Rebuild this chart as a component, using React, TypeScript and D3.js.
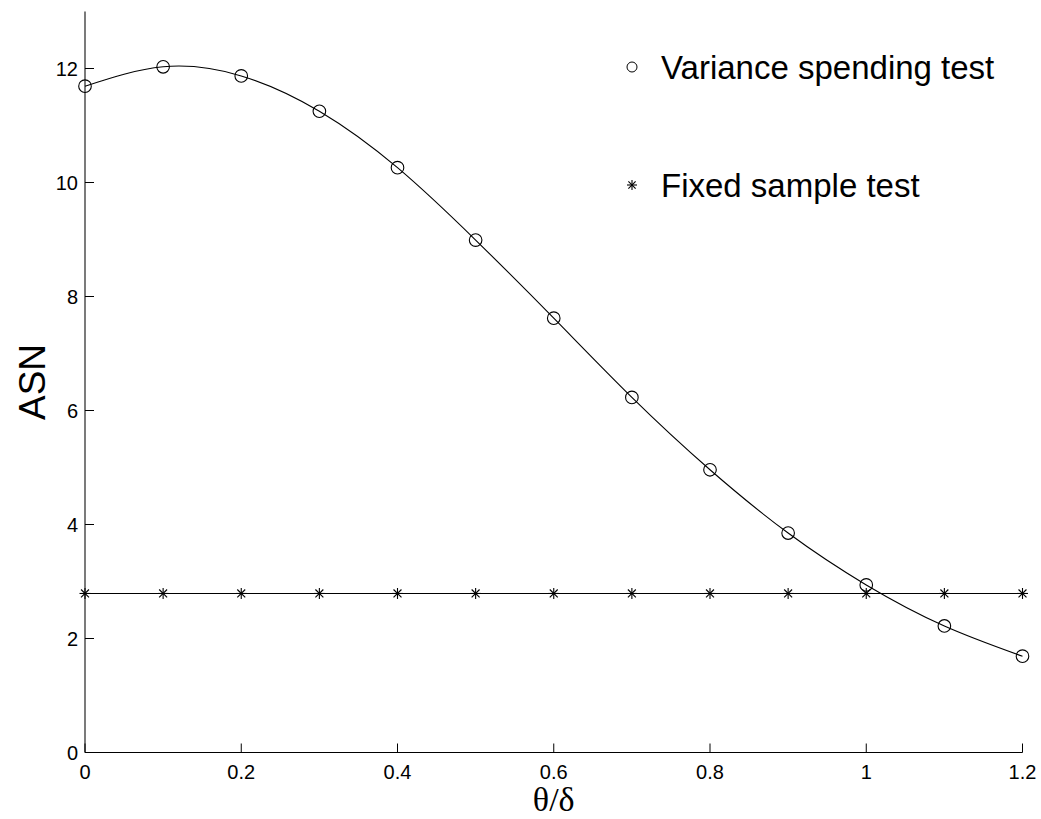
import React from "react";
import * as d3 from "d3";

const thetaValues = [0, 0.1, 0.2, 0.3, 0.4, 0.5, 0.6, 0.7, 0.8, 0.9, 1.0, 1.1, 1.2];
const varianceSpendingASN = [11.69, 12.03, 11.87, 11.25, 10.26, 8.99, 7.62, 6.23, 4.96, 3.85, 2.94, 2.22, 1.69];
const fixedSampleASN = [2.79, 2.79, 2.79, 2.79, 2.79, 2.79, 2.79, 2.79, 2.79, 2.79, 2.79, 2.79, 2.79];
const xTicks = [0, 0.2, 0.4, 0.6, 0.8, 1, 1.2];
const yTicks = [0, 2, 4, 6, 8, 10, 12];
const legendLabels = ["Variance spending test", "Fixed sample test"];

const W = 1041;
const H = 819;
const FONT = "'Liberation Sans', Arial, Helvetica, sans-serif";
const SERIF = "'Liberation Serif', 'Times New Roman', serif";

function Star({ cx, cy, r }: { cx: number; cy: number; r: number }) {
  const d = r * 0.72;
  return (
    <g stroke="#000" strokeWidth={1.1}>
      <line x1={cx - r} y1={cy} x2={cx + r} y2={cy} />
      <line x1={cx} y1={cy - r} x2={cx} y2={cy + r} />
      <line x1={cx - d} y1={cy - d} x2={cx + d} y2={cy + d} />
      <line x1={cx - d} y1={cy + d} x2={cx + d} y2={cy - d} />
    </g>
  );
}

export default function App() {
  const x = d3.scaleLinear().domain([0, 1.2]).range([85, 1022.5]);
  const y = d3.scaleLinear().domain([0, 13]).range([752.5, 11.5]);

  const vsData = thetaValues.map((t, i) => [t, varianceSpendingASN[i]] as [number, number]);
  const fsData = thetaValues.map((t, i) => [t, fixedSampleASN[i]] as [number, number]);

  const curve = d3
    .line<[number, number]>()
    .x((d) => x(d[0]))
    .y((d) => y(d[1]))
    .curve(d3.curveNatural);
  const straight = d3
    .line<[number, number]>()
    .x((d) => x(d[0]))
    .y((d) => y(d[1]));

  const xMid = (x(0) + x(1.2)) / 2;
  const yMid = (y(0) + y(13)) / 2;

  return (
    <svg
      width={W}
      height={H}
      style={{ position: "absolute", left: 0, top: 0, background: "#fff" }}
    >
      <rect x={0} y={0} width={W} height={H} fill="#fff" />
      {/* axes */}
      <line x1={x(0)} y1={y(13)} x2={x(0)} y2={y(0)} stroke="#222" strokeWidth={1.2} />
      <line x1={x(0)} y1={y(0)} x2={x(1.2)} y2={y(0)} stroke="#000" strokeWidth={1.2} />
      {xTicks.map((t) => (
        <g key={"xt" + t}>
          <line x1={x(t)} y1={y(0)} x2={x(t)} y2={y(0) - 9} stroke="#000" strokeWidth={1} />
          <text
            x={x(t)}
            y={y(0) + 26}
            textAnchor="middle"
            fontFamily={FONT}
            fontSize={20}
            fill="#000"
          >
            {t}
          </text>
        </g>
      ))}
      {yTicks.map((t) => (
        <g key={"yt" + t}>
          <line x1={x(0)} y1={y(t)} x2={x(0) + 9} y2={y(t)} stroke="#000" strokeWidth={1} />
          <text
            x={x(0) - 7}
            y={y(t) + 7}
            textAnchor="end"
            fontFamily={FONT}
            fontSize={20}
            fill="#000"
          >
            {t}
          </text>
        </g>
      ))}
      {/* axis labels */}
      <text
        x={xMid}
        y={811}
        textAnchor="middle"
        fontFamily={SERIF}
        fontSize={34}
        fill="#000"
      >
        θ/δ
      </text>
      <text
        transform={`translate(45,${yMid}) rotate(-90)`}
        textAnchor="middle"
        fontFamily={FONT}
        fontSize={37}
        fill="#000"
      >
        ASN
      </text>

      {/* series lines */}
      <path d={straight(fsData) || ""} fill="none" stroke="#000" strokeWidth={1.1} />
      <path d={curve(vsData) || ""} fill="none" stroke="#000" strokeWidth={1.1} />

      {/* markers */}
      {vsData.map((d, i) => (
        <circle
          key={"c" + i}
          cx={x(d[0])}
          cy={y(d[1])}
          r={6.3}
          fill="none"
          stroke="#000"
          strokeWidth={1.1}
        />
      ))}
      {fsData.map((d, i) => (
        <Star key={"s" + i} cx={x(d[0])} cy={y(d[1])} r={5.5} />
      ))}

      {/* legend */}
      <circle cx={632} cy={67} r={5} fill="none" stroke="#000" strokeWidth={1} />
      <text x={661} y={79} fontFamily={FONT} fontSize={33} fill="#000">
        {legendLabels[0]}
      </text>
      <Star cx={632} cy={185} r={5} />
      <text x={661} y={197} fontFamily={FONT} fontSize={33} fill="#000">
        {legendLabels[1]}
      </text>
    </svg>
  );
}
